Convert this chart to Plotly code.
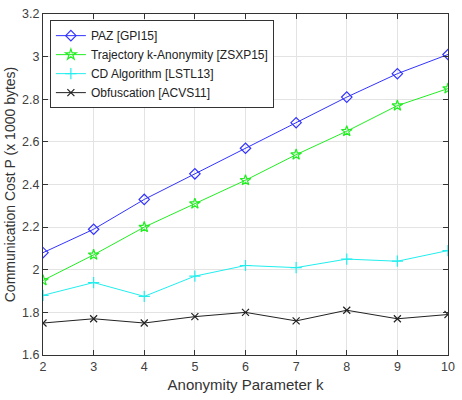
import plotly.graph_objects as go

k = [2, 3, 4, 5, 6, 7, 8, 9, 10]
paz = [2.08, 2.19, 2.33, 2.45, 2.57, 2.69, 2.81, 2.92, 3.01]
traj = [1.95, 2.07, 2.20, 2.31, 2.42, 2.54, 2.65, 2.77, 2.85]
cd = [1.88, 1.94, 1.875, 1.97, 2.02, 2.01, 2.05, 2.04, 2.09]
obf = [1.75, 1.77, 1.75, 1.78, 1.80, 1.76, 1.81, 1.77, 1.79]

names = ["PAZ [GPI15]", "Trajectory k-Anonymity [ZSXP15]", "CD Algorithm [LSTL13]", "Obfuscation [ACVS11]"]
series = [paz, traj, cd, obf]
colors = ["#3333ff", "#22ee22", "#22eeee", "#222222"]
symbols = ["diamond-open", "star-open", "cross-thin-open", "x-thin-open"]
sizes = [8, 8, 8, 7]

fig = go.Figure()
for n, s, c, sym, sz in zip(names, series, colors, symbols, sizes):
    fig.add_trace(go.Scatter(x=k, y=s, name=n, mode="lines+markers",
                             line=dict(color=c, width=1),
                             marker=dict(symbol=sym, size=sz, color=c, line=dict(color=c, width=1.2))))

axis_common = dict(showline=True, linecolor="#333333", linewidth=1, mirror="ticks",
                   ticks="inside", ticklen=5, tickcolor="#333333",
                   showgrid=True, gridcolor="#e3e3e3", gridwidth=1, zeroline=False,
                   tickfont=dict(family="Liberation Sans, Arial", size=12.5, color="#404040"))

fig.update_layout(
    width=462, height=400,
    margin=dict(l=43, r=7, t=14, b=45),
    paper_bgcolor="white", plot_bgcolor="white",
    font=dict(family="Liberation Sans, Arial", size=12, color="#333333"),
    xaxis=dict(range=[2, 10], dtick=1,
               title=dict(text="Anonymity Parameter k", font=dict(size=15, color="#333333"), standoff=6),
               **axis_common),
    yaxis=dict(range=[1.6, 3.2], dtick=0.2, tickformat="~g",
               title=dict(text="Communication Cost P (x 1000 bytes)", font=dict(size=14, color="#333333"), standoff=3),
               **axis_common),
    legend=dict(x=0.017, y=0.982, xanchor="left", yanchor="top",
                bgcolor="white", bordercolor="#333333", borderwidth=1,
                font=dict(size=12, color="#222222"), tracegroupgap=0,
                itemwidth=30),
    showlegend=True,
)

fig.write_html("out.html")
